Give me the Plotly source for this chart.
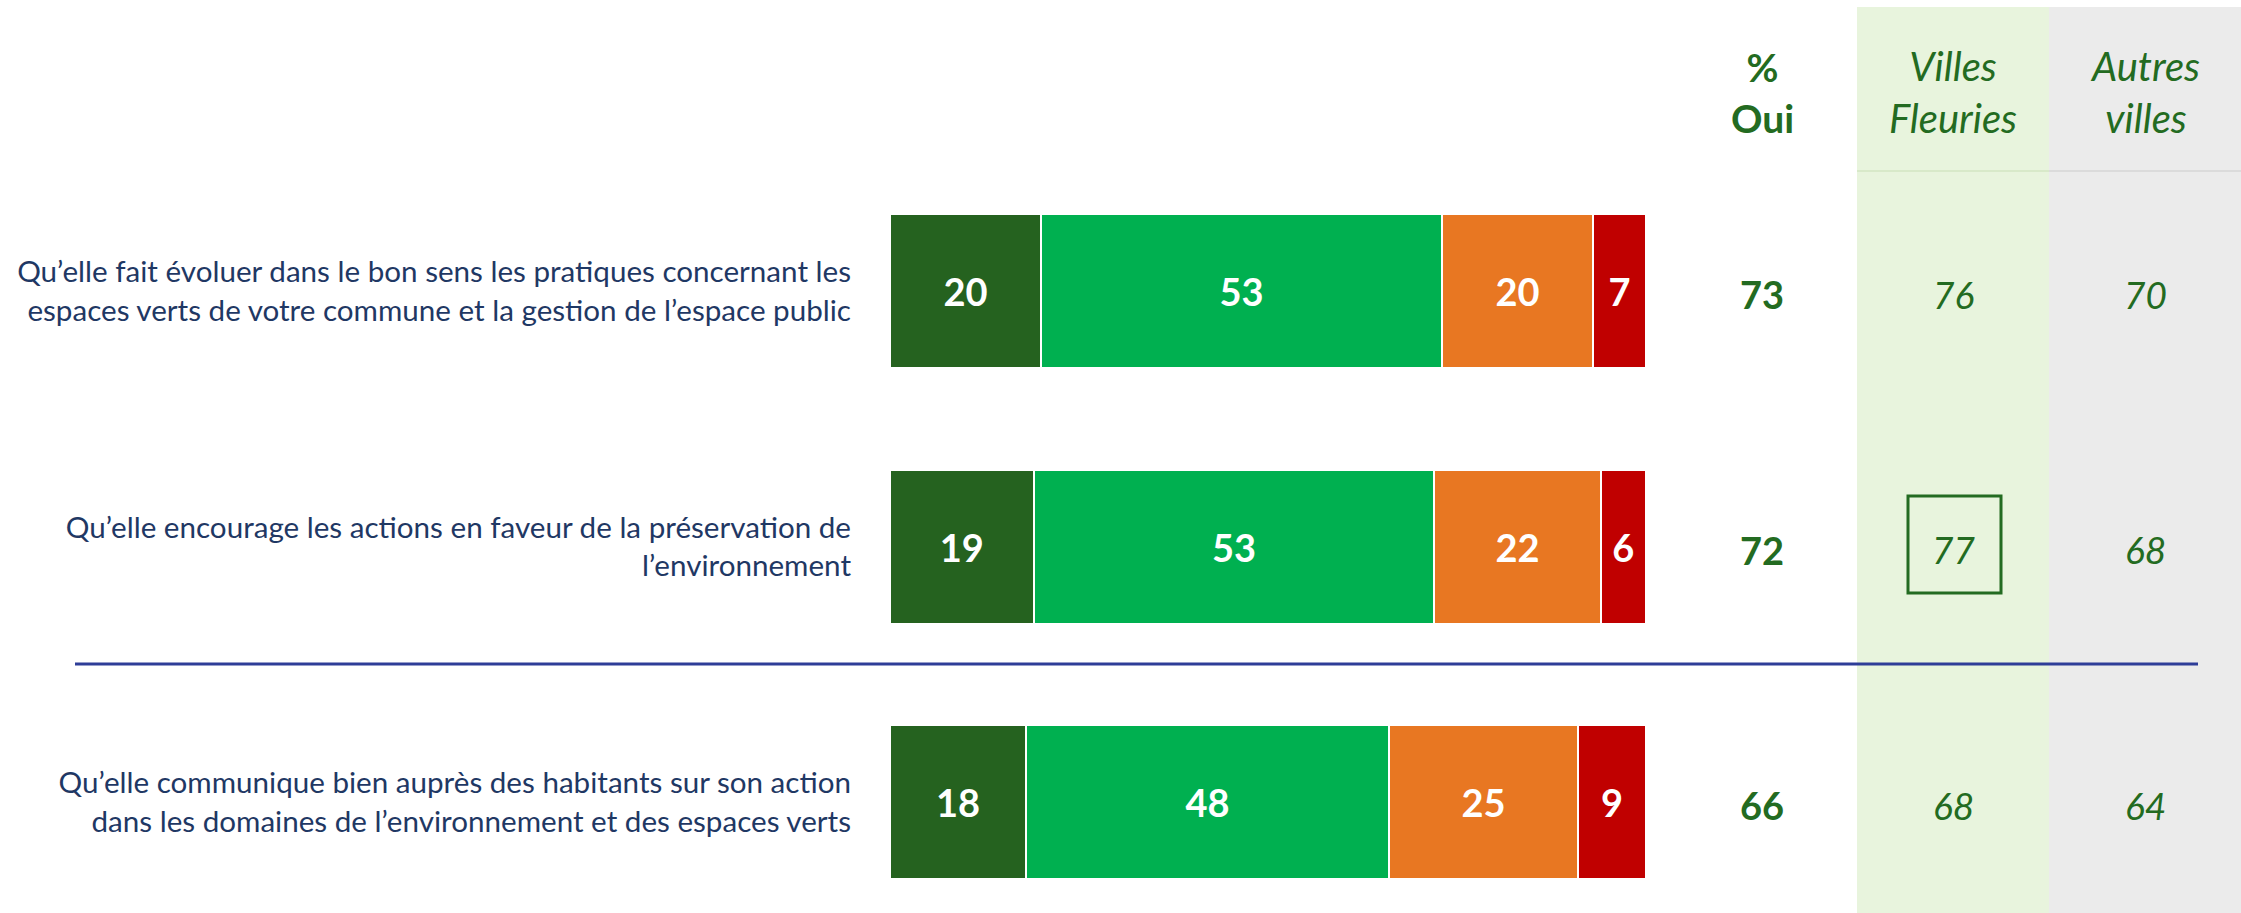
import plotly.graph_objects as go

# Questions (one row each)
questions = [
    "Qu’elle fait évoluer dans le bon sens les pratiques concernant les<br>espaces verts de votre commune et la gestion de l’espace public",
    "Qu’elle encourage les actions en faveur de la préservation de<br>l’environnement",
    "Qu’elle communique bien auprès des habitants sur son action<br>dans les domaines de l’environnement et des espaces verts",
]

# Stacked bar segments (%)
oui_tout_a_fait = [20, 19, 18]
oui_plutot = [53, 53, 48]
non_plutot_pas = [20, 22, 25]
non_pas_du_tout = [7, 6, 9]

# Side columns
pct_oui = [73, 72, 66]
villes_fleuries = [76, 77, 68]
autres_villes = [70, 68, 64]

W, H = 2241, 913
FONT = "Lato"
NAVY = "#1F3864"
TXT_GREEN = "#236B21"


def px(x):
    return x / W


def py(y):
    return 1 - y / H


segments = [
    ("Oui, tout à fait", oui_tout_a_fait, "#25621F"),
    ("Oui, plutôt", oui_plutot, "#00B050"),
    ("Non, plutôt pas", non_plutot_pas, "#E87722"),
    ("Non, pas du tout", non_pas_du_tout, "#C00000"),
]

fig = go.Figure()

for name, values, color in segments:
    fig.add_trace(go.Bar(
        y=questions,
        x=values,
        name=name,
        orientation="h",
        width=0.603,
        marker=dict(color=color, line=dict(color="white", width=2)),
        text=values,
        texttemplate="<b>%{x}</b>",
        textposition="inside",
        insidetextanchor="middle",
        textangle=0,
        textfont=dict(family=FONT, size=38, color="white"),
        showlegend=False,
        hoverinfo="skip",
    ))

# Column backgrounds
shapes = [
    dict(type="rect", xref="paper", yref="paper", x0=px(1857), x1=px(2049), y0=0, y1=py(7),
         fillcolor="#E8F4DD", line=dict(width=0), layer="below"),
    dict(type="rect", xref="paper", yref="paper", x0=px(2049), x1=1, y0=0, y1=py(7),
         fillcolor="#EBEBEB", line=dict(width=0), layer="below"),
    dict(type="line", xref="paper", yref="paper", x0=px(1857), x1=px(2049), y0=py(171), y1=py(171),
         line=dict(color="#D3E6C2", width=1.5)),
    dict(type="line", xref="paper", yref="paper", x0=px(2049), x1=1, y0=py(171), y1=py(171),
         line=dict(color="#D6D6D6", width=1.5)),
    # separator between rows 2 and 3
    dict(type="line", xref="paper", yref="paper", x0=px(75), x1=px(2198), y0=py(664), y1=py(664),
         line=dict(color="#2E3D98", width=3)),
    # highlight box around significant value
    dict(type="rect", xref="paper", yref="paper", x0=px(1908), x1=px(2001), y0=py(593), y1=py(496),
         line=dict(color=TXT_GREEN, width=3), fillcolor="rgba(0,0,0,0)"),
]

COL_X = {"oui": px(1762), "vf": px(1953), "av": px(2145)}


def col_note(text, x, y, yref, size, yshift=0):
    return dict(text=text, x=x, y=y, xref="paper", yref=yref, xanchor="center",
                yanchor="middle", showarrow=False, yshift=yshift,
                font=dict(family=FONT, size=size, color=TXT_GREEN))


annotations = [
    col_note("<b>%<br>Oui</b>", COL_X["oui"], py(92), "paper", 39),
    col_note("<i>Villes<br>Fleuries</i>", COL_X["vf"], py(92), "paper", 40),
    col_note("<i>Autres<br>villes</i>", COL_X["av"], py(92), "paper", 40),
]

for q, p, vf, av in zip(questions, pct_oui, villes_fleuries, autres_villes):
    annotations.append(col_note(f"<b>{p}</b>", COL_X["oui"], q, "y", 38, -3))
    annotations.append(col_note(f"<i>{vf}</i>", COL_X["vf"], q, "y", 37, -3))
    annotations.append(col_note(f"<i>{av}</i>", COL_X["av"], q, "y", 37, -3))

fig.update_layout(
    barmode="stack",
    width=W,
    height=H,
    margin=dict(l=0, r=0, t=0, b=0),
    plot_bgcolor="white",
    paper_bgcolor="white",
    shapes=shapes,
    annotations=annotations,
    xaxis=dict(
        domain=[px(890), px(1646)],
        range=[0, 100],
        showgrid=False,
        showticklabels=False,
        zeroline=False,
        fixedrange=True,
    ),
    yaxis=dict(
        range=[2.434, -1.139],
        showgrid=False,
        zeroline=False,
        showline=False,
        ticks="",
        ticklabelstandoff=38,
        tickfont=dict(family=FONT, size=29.6, color=NAVY),
        fixedrange=True,
    ),
)

# drop the default page margin so the figure sits at the window origin
fig.write_html(
    "out.html",
    config={"displayModeBar": False},
    post_script="document.body.style.margin='0';",
)
